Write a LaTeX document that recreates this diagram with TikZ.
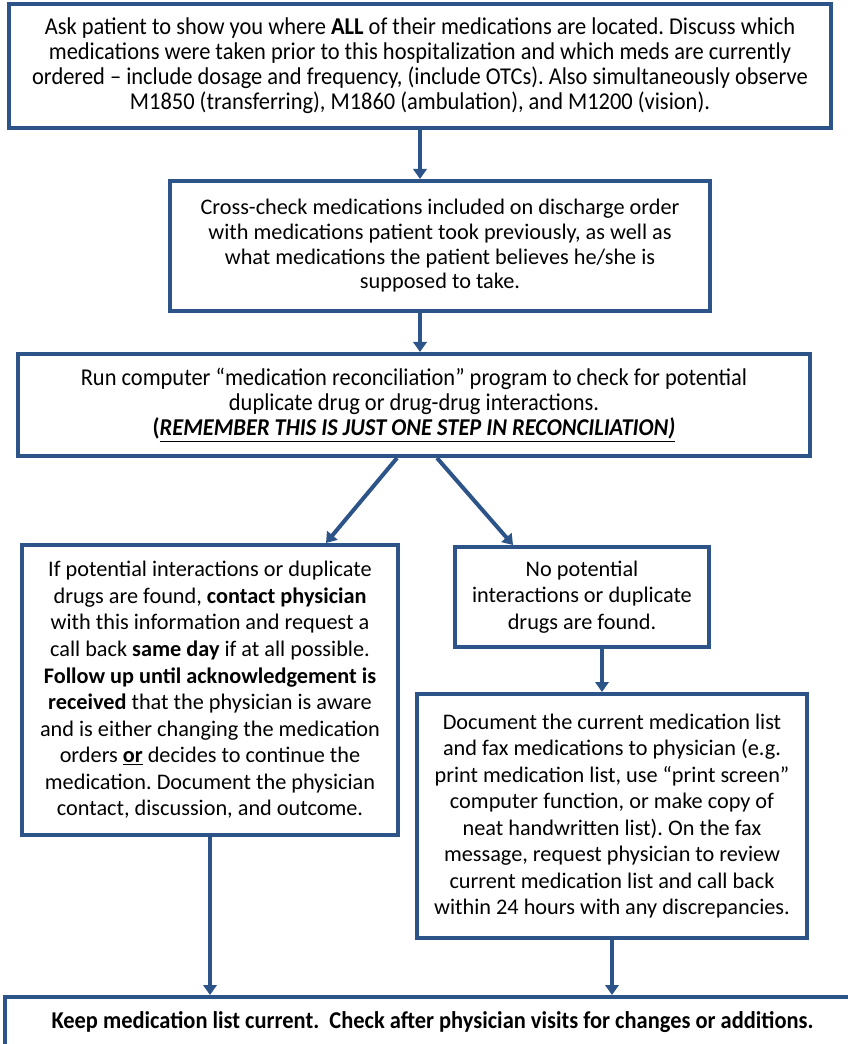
\documentclass[tikz,border=0pt]{standalone}
\usepackage{fontspec}
\setmainfont{Carlito}
\newfontfamily\condfont[FakeStretch=0.93]{Carlito}
\usetikzlibrary{arrows.meta,calc}
\definecolor{flowblue}{RGB}{44,84,136}
\frenchspacing
\begin{document}
\begin{tikzpicture}[x=0.75pt,y=-0.75pt,
  box/.style={draw=flowblue, line width=3pt, fill=white, align=center, inner sep=0pt},
  conn/.style={draw=flowblue, line width=3pt, -{Triangle[length=7.5pt,width=10pt]}},
  normtxt/.style={font=\fontsize{16.7pt}{19.9pt}\selectfont},
  condtxt/.style={font=\condfont\fontsize{18.1pt}{18.8pt}\selectfont},
  condbold/.style={font=\condfont\bfseries\fontsize{18.1pt}{18.8pt}\selectfont}
]
\useasboundingbox (0,0) rectangle (848,1044);
\fill[white] (0,0) rectangle (848,1044);

\node[box, condtxt, minimum width=616.5pt, minimum height=93pt] (top) at (420,66)
 {Ask patient to show you where \textbf{ALL} of their medications are located. Discuss which\\
  medications were taken prior to this hospitalization and which meds are currently\\
  ordered – include dosage and frequency, (include OTCs). Also simultaneously observe\\
  M1850 (transferring), M1860 (ambulation), and M1200 (vision).};

\node[box, font=\fontsize{16.7pt}{18.5pt}\selectfont, minimum width=405pt, minimum height=97.5pt] (b2) at (440,246)
 {Cross-check medications included on discharge order\\
  with medications patient took previously, as well as\\
  what medications the patient believes he/she is\\
  supposed to take.};

\node[box, condtxt, minimum width=594pt, minimum height=76.5pt] (b3) at (414,405)
 {Run computer “medication reconciliation” program to check for potential\\
  duplicate drug or drug-drug interactions.\\
  \textbf{(\underline{\textit{REMEMBER THIS IS JUST ONE STEP IN RECONCILIATION)}}}};

\node[box, normtxt, minimum width=282pt, minimum height=217.5pt] (bl) at (210,690)
 {If potential interactions or duplicate\\
  drugs are found, \textbf{contact physician}\\
  with this information and request a\\
  call back \textbf{same day} if at all possible.\\
  \textbf{Follow up until acknowledgement is}\\
  \textbf{received} that the physician is aware\\
  and is either changing the medication\\
  orders \textbf{\underline{or}} decides to continue the\\
  medication. Document the physician\\
  contact, discussion, and outcome.};

\node[box, normtxt, minimum width=190.5pt, minimum height=75pt] (br) at (582,597)
 {No potential\\
  interactions or duplicate\\
  drugs are found.};

\node[box, normtxt, minimum width=292.5pt, minimum height=183pt] (b5) at (612,816)
 {Document the current medication list\\
  and fax medications to physician (e.g.\\
  print medication list, use “print screen”\\
  computer function, or make copy of\\
  neat handwritten list). On the fax\\
  message, request physician to review\\
  current medication list and call back\\
  within 24 hours with any discrepancies.};

\node[box, condbold, minimum width=641pt, minimum height=37.5pt] (bot) at (432.5,1022)
 {Keep medication list current.\ \ Check after physician visits for changes or additions.};

\coordinate (brs) at ($(br.south)+(20,0)$);
\draw[conn] (top.south) -- (top.south |- b2.north);
\draw[conn] (b2.south -| top.south) -- (b3.north -| top.south);
\draw[conn] ($(b3.south)+(-17,0)$) -- ($(bl.north)+(116,0)$);
\draw[conn] ($(b3.south)+(23,0)$) -- ($(br.north)+(-69,0)$);
\draw[conn] (brs) -- (brs |- b5.north);
\draw[conn] (bl.south) -- (bl.south |- bot.north);
\draw[conn] (b5.south) -- (b5.south |- bot.north);
\end{tikzpicture}
\end{document}
